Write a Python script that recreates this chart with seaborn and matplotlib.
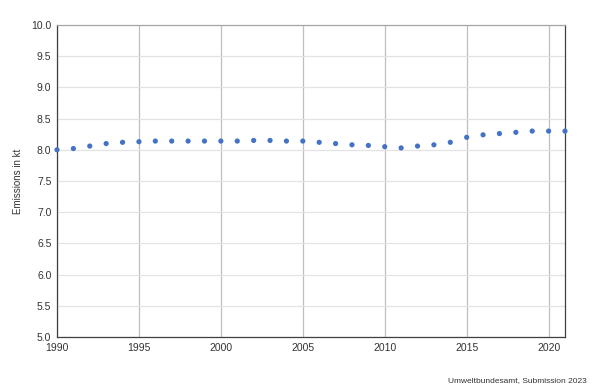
import matplotlib
matplotlib.use("Agg")
import matplotlib.pyplot as plt
import seaborn as sns
import pandas as pd
from matplotlib.ticker import FormatStrFormatter, MultipleLocator

years = list(range(1990, 2022))
emissions = [8.00, 8.02, 8.06, 8.10, 8.12, 8.13, 8.14, 8.14, 8.14, 8.14,
             8.14, 8.14, 8.15, 8.15, 8.14, 8.14, 8.12, 8.10, 8.08, 8.07,
             8.05, 8.03, 8.06, 8.08, 8.12, 8.20, 8.24, 8.26, 8.28, 8.30,
             8.30, 8.30]
x_ticks = [1990, 1995, 2000, 2005, 2010, 2015, 2020]
y_label = "Emissions in kt"
source = "Umweltbundesamt, Submission 2023"

df = pd.DataFrame({"year": years, "emissions": emissions})

sns.set_theme(style="white")
plt.rcParams["font.family"] = ["Liberation Sans", "DejaVu Sans"]

fig = plt.figure(figsize=(6, 3.87), dpi=100)
ax = fig.add_axes([57/600, 50/387, 508/600, 312/387])

sns.scatterplot(data=df, x="year", y="emissions", ax=ax, color="#4472C4",
                s=14, edgecolor="none", clip_on=False, zorder=3)

ax.set_xlim(1990, 2021)
ax.set_ylim(5.0, 10.0)
ax.set_xticks(x_ticks)
ax.yaxis.set_major_locator(MultipleLocator(0.5))
ax.yaxis.set_major_formatter(FormatStrFormatter("%.1f"))

ax.grid(axis="y", color="#e3e3e3", linewidth=0.9)
ax.grid(axis="x", color="#bfbfbf", linewidth=0.9)
ax.set_axisbelow(True)

for side in ["left", "bottom", "right"]:
    ax.spines[side].set_color("#404040")
    ax.spines[side].set_linewidth(0.9)
ax.spines["top"].set_color("#a6a6a6")
ax.spines["top"].set_linewidth(0.9)

ax.tick_params(axis="both", length=0, labelsize=7.5, colors="#333333", pad=4)
ax.set_xlabel("")
ax.set_ylabel(y_label, fontsize=7, color="#333333", labelpad=6)

fig.text(587/600, 1 - 381/387, source, ha="right", va="center",
         fontsize=6, color="#333333")

fig.savefig("out.png", dpi=100)
